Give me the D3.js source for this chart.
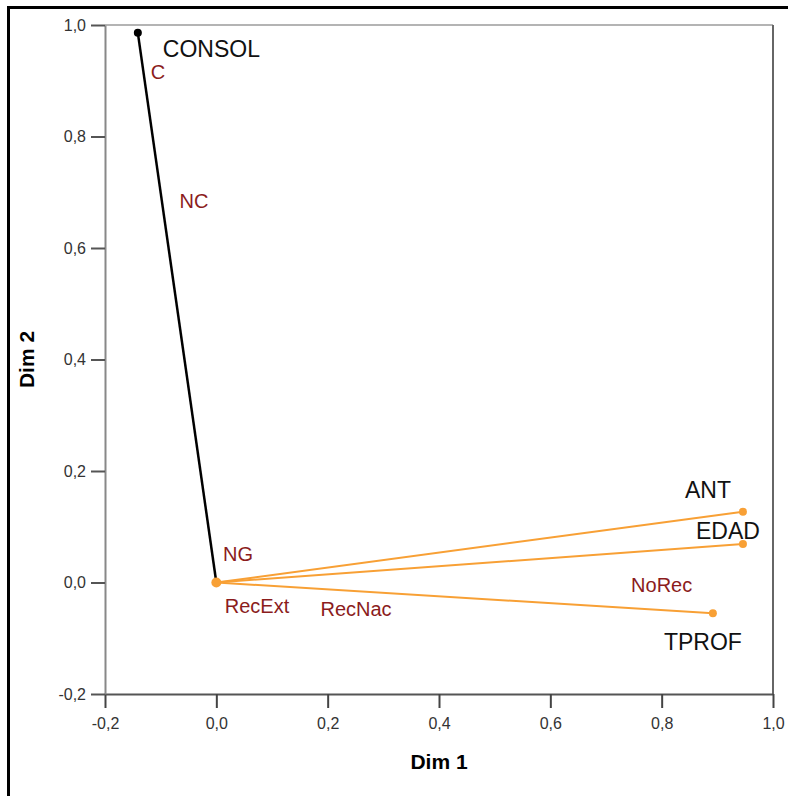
<!DOCTYPE html>
<html>
<head>
<meta charset="utf-8">
<script src="https://cdn.jsdelivr.net/npm/d3@7"></script>
<style>
  body { margin: 0; background: #fff; }
  text { font-family: "Liberation Sans", Arial, sans-serif; }
</style>
</head>
<body>
<svg id="svg"></svg>
<script>
////////////////////////////////////////////////////////////////////////
// Data: discriminant measures (vectors) and category centroids

let varNames = ["CONSOL", "ANT", "EDAD", "TPROF"];
let varDim1  = [-0.141, 0.946, 0.946, 0.892];
let varDim2  = [0.986, 0.127, 0.069, -0.055];
let varGroup = ["nominal", "numeric", "numeric", "numeric"];

let catNames = ["C", "NC", "NG", "RecExt", "RecNac", "NoRec"];
let catDim1  = [-0.105, -0.040, 0.039, 0.073, 0.251, 0.800];
let catDim2  = [0.916, 0.684, 0.051, -0.042, -0.048, -0.004];

let xTicks = [-0.2, 0.0, 0.2, 0.4, 0.6, 0.8, 1.0];
let yTicks = [-0.2, 0.0, 0.2, 0.4, 0.6, 0.8, 1.0];

////////////////////////////////////////////////////////////////////////
// Layout

let winWidth = 788, winHeight = 796;
let plot = { x1: 105, x2: 773, y1: 25, y2: 694 };

// where each variable name sits relative to its end point
let labelPos = {
  CONSOL: { dx: 25,  dy: 24,  anchor: "start" },
  ANT:    { dx: -12, dy: -14, anchor: "end" },
  EDAD:   { dx: 17,  dy: -5,  anchor: "end" },
  TPROF:  { dx: 29,  dy: 37,  anchor: "end" }
};
let groupColor = { nominal: "#000000", numeric: "#f8a035" };

let xScale = d3.scaleLinear().domain([-0.2, 1.0]).range([plot.x1, plot.x2]);
let yScale = d3.scaleLinear().domain([-0.2, 1.0]).range([plot.y2, plot.y1]);

// comma decimals, plain hyphen for negatives
let fmt = function(v) {
  return d3.format(".1f")(v).replace(".", ",").replace("\u2212", "-");
};

let svg = d3.select("#svg")
            .attr("width", winWidth)
            .attr("height", winHeight);

// outer frame (left and top only)
svg.append("path")
   .attr("d", "M8.5," + winHeight + " V7.5 H" + winWidth)
   .attr("fill", "none")
   .attr("stroke", "#000")
   .attr("stroke-width", 3);

// plot frame top / right
svg.append("line")
   .attr("x1", plot.x1).attr("x2", plot.x2)
   .attr("y1", plot.y1).attr("y2", plot.y1)
   .attr("stroke", "#b4b4b4").attr("stroke-width", 2);
svg.append("line")
   .attr("x1", plot.x2).attr("x2", plot.x2)
   .attr("y1", plot.y1).attr("y2", plot.y2)
   .attr("stroke", "#666").attr("stroke-width", 2);

// axes
let xAxis = d3.axisBottom(xScale).tickValues(xTicks).tickFormat(fmt)
              .tickSize(14).tickSizeOuter(0).tickPadding(10);
let yAxis = d3.axisLeft(yScale).tickValues(yTicks).tickFormat(fmt)
              .tickSize(14).tickSizeOuter(0).tickPadding(5);

let gx = svg.append("g")
            .attr("transform", "translate(0," + plot.y2 + ")")
            .call(xAxis);
gx.select(".domain").attr("stroke", "#555").attr("stroke-width", 2);
gx.selectAll(".tick line").attr("stroke", "#444").attr("stroke-width", 2);
gx.selectAll(".tick text").attr("font-size", 16).attr("fill", "#333")
  .attr("font-family", "Liberation Sans, Arial, sans-serif");

let gy = svg.append("g")
            .attr("transform", "translate(" + plot.x1 + ",0)")
            .call(yAxis);
gy.select(".domain").attr("stroke", "#888").attr("stroke-width", 2);
gy.selectAll(".tick line").attr("stroke", "#555").attr("stroke-width", 2);
gy.selectAll(".tick text").attr("font-size", 16).attr("fill", "#333")
  .attr("font-family", "Liberation Sans, Arial, sans-serif");

// axis titles
svg.append("text")
   .attr("x", (plot.x1 + plot.x2) / 2)
   .attr("y", 769)
   .attr("text-anchor", "middle")
   .attr("font-size", 21).attr("font-weight", "bold")
   .text("Dim 1");
svg.append("text")
   .attr("transform", "translate(34," + (plot.y1 + plot.y2) / 2 + ") rotate(-90)")
   .attr("text-anchor", "middle")
   .attr("font-size", 21).attr("font-weight", "bold")
   .text("Dim 2");

////////////////////////////////////////////////////////////////////////
// Vectors from the origin

let vars = varNames.map(function(n, i) {
  return { name: n, x: varDim1[i], y: varDim2[i], group: varGroup[i] };
});

svg.selectAll("line.vec")
   .data(vars)
   .enter()
   .append("line")
   .attr("class", "vec")
   .attr("x1", xScale(0)).attr("y1", yScale(0))
   .attr("x2", function(d) { return xScale(d.x); })
   .attr("y2", function(d) { return yScale(d.y); })
   .attr("stroke", function(d) { return groupColor[d.group]; })
   .attr("stroke-width", function(d) { return d.group == "nominal" ? 2.5 : 2; });

svg.selectAll("circle.end")
   .data(vars)
   .enter()
   .append("circle")
   .attr("class", "end")
   .attr("cx", function(d) { return xScale(d.x); })
   .attr("cy", function(d) { return yScale(d.y); })
   .attr("r", 4)
   .attr("fill", function(d) { return groupColor[d.group]; });

// origin marker
svg.append("circle")
   .attr("cx", xScale(0)).attr("cy", yScale(0))
   .attr("r", 5).attr("fill", groupColor.numeric);

svg.selectAll("text.var")
   .data(vars)
   .enter()
   .append("text")
   .attr("class", "var")
   .attr("x", function(d) { return xScale(d.x) + labelPos[d.name].dx; })
   .attr("y", function(d) { return yScale(d.y) + labelPos[d.name].dy; })
   .attr("text-anchor", function(d) { return labelPos[d.name].anchor; })
   .attr("font-size", 23)
   .attr("fill", "#111")
   .text(function(d) { return d.name; });

////////////////////////////////////////////////////////////////////////
// Category labels

let cats = catNames.map(function(n, i) {
  return { name: n, x: catDim1[i], y: catDim2[i] };
});

svg.selectAll("text.cat")
   .data(cats)
   .enter()
   .append("text")
   .attr("class", "cat")
   .attr("x", function(d) { return xScale(d.x); })
   .attr("y", function(d) { return yScale(d.y); })
   .attr("dy", "0.35em")
   .attr("text-anchor", "middle")
   .attr("font-size", 20)
   .attr("fill", "#8b1c1c")
   .text(function(d) { return d.name; });
</script>
</body>
</html>
